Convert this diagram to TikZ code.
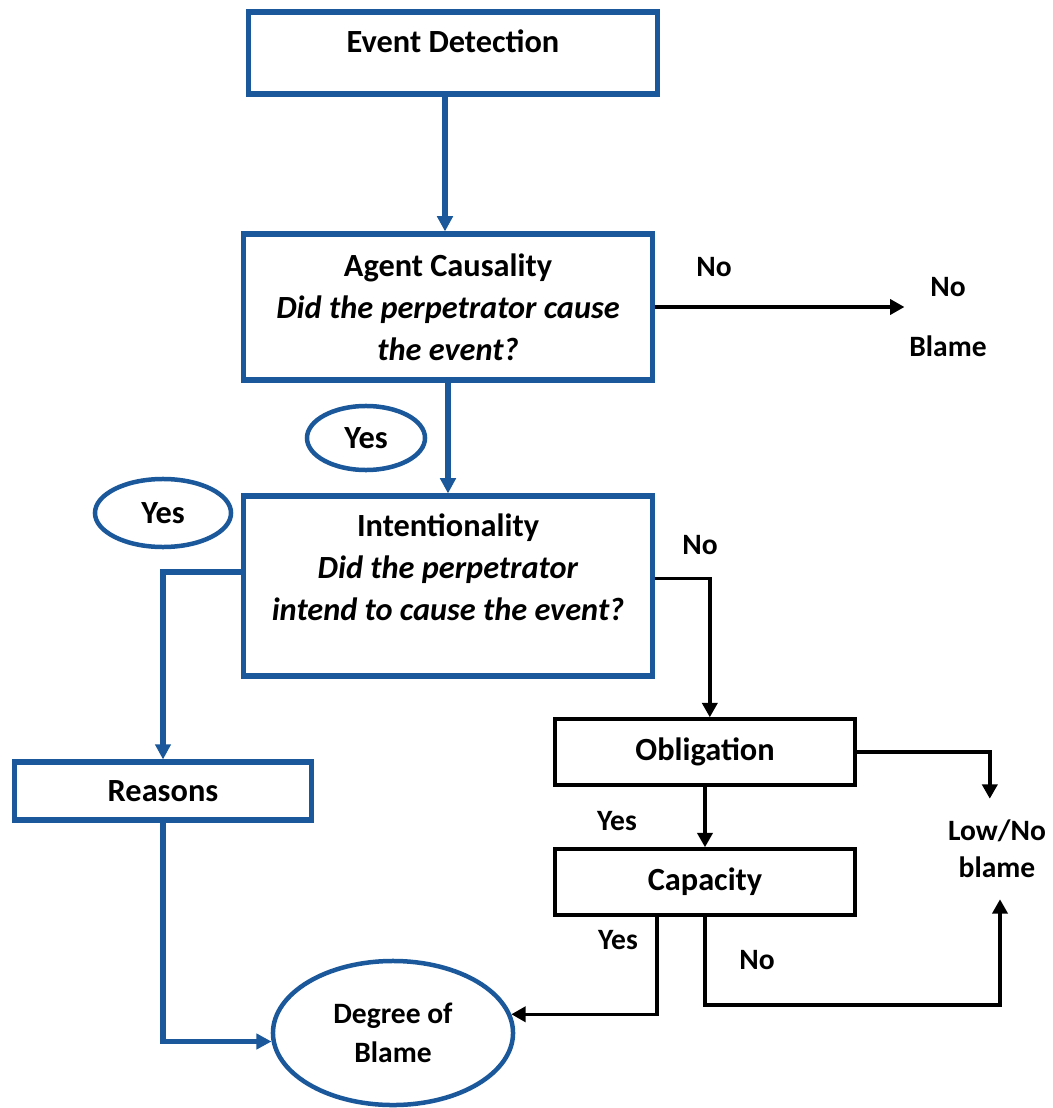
\documentclass[tikz,border=0pt]{standalone}
\usepackage{fontspec}
\setmainfont{Carlito}
\usepackage{xcolor}
\usetikzlibrary{shapes.geometric, arrows.meta}
\definecolor{flowblue}{RGB}{26,88,155}

\begin{document}
\begin{tikzpicture}[x=0.025cm, y=-0.025cm,
		every node/.style={font=\fontsize{21}{30}\selectfont\bfseries, align=center},
		boxtext/.style={font=\fontsize{23}{30}\selectfont\bfseries},
		bluebox/.style={draw=flowblue, line width=3.6pt, rectangle, boxtext},
		blackbox/.style={draw=black, line width=2.5pt, rectangle, boxtext, minimum width=7.5cm, minimum height=1.65cm},
		blueoval/.style={draw=flowblue, line width=3.2pt, ellipse, inner sep=0pt, boxtext},
		bluearrow/.style={draw=flowblue, line width=3.6pt, -{Triangle[length=0.38cm, width=0.38cm]}},
		blackarrow/.style={draw=black, line width=2.4pt, -{Triangle[length=0.36cm, width=0.38cm]}}]
			
			\useasboundingbox (0,0) rectangle (1052,1108);
			
			\node[bluebox, minimum width=10.2cm, minimum height=2.05cm, text depth=0.6cm] (event) at (453,53) {Event Detection};
			\node[bluebox, minimum width=10.2cm, minimum height=3.65cm] (agent) at (448,307) {Agent Causality\\\textit{Did the perpetrator cause}\\\textit{the event?}};
			\node[bluebox, minimum width=10.2cm, minimum height=4.5cm, text depth=0.95cm] (intent) at (448,586) {Intentionality\\\textit{Did the perpetrator}\\\textit{intend to cause the event?}};
			\node[bluebox, minimum width=7.4cm, minimum height=1.45cm] (reasons) at (163,791) {Reasons};
			\node[blackbox] (oblig) at (705,752) {Obligation};
			\node[blackbox] (capac) at (705,882) {Capacity};
			\node[blueoval, minimum width=6.0cm, minimum height=3.6cm, font=\fontsize{21}{27.6}\selectfont\bfseries] (degree) at (393,1033) {Degree of\\Blame};
			\node[blueoval, minimum width=2.95cm, minimum height=1.6cm] (yesA) at (366,438) {Yes};
			\node[blueoval, minimum width=3.4cm, minimum height=1.7cm] (yesB) at (163,513) {Yes};
			
			\node (noA) at (714,267) {No};
			\node (noblame) at (948,317) {No\\[0.45cm]Blame};
			\node (noB) at (700,545) {No};
			\node (yesC) at (617,821) {Yes};
			\node (yesD) at (618,940) {Yes};
			\node (noC) at (757,960) {No};
			\node[minimum height=2.5cm, font=\fontsize{21}{26}\selectfont\bfseries] (lownode) at (997,849) {Low/No\\blame};
			\coordinate (nobase) at (1000,1005);
			
			\draw[bluearrow] ([xshift=-0.2cm]event.south) -- ([xshift=-0.2cm]event.south |- agent.north);
			\draw[bluearrow] (agent.south) -- (intent.north);
			\draw[bluearrow] ([yshift=0.35cm]intent.west) -| (reasons.north);
			\draw[bluearrow] (reasons.south) |- (degree.184);
			\draw[blackarrow] (agent.east) -- (agent.east -| noblame.west);
			\draw[blackarrow] ([yshift=0.18cm]intent.east) -| ([xshift=0.12cm]oblig.north);
			\draw[blackarrow] (oblig.south) -- (capac.north);
			\draw[blackarrow] (oblig.east) -| ([xshift=-0.18cm]lownode.north);
			\draw[blackarrow] ([xshift=-1.2cm]capac.south) |- (degree.9);
			\draw[blackarrow] (capac.south) |- (nobase) -- (nobase |- lownode.south);
			
		\end{tikzpicture}
\end{document}
